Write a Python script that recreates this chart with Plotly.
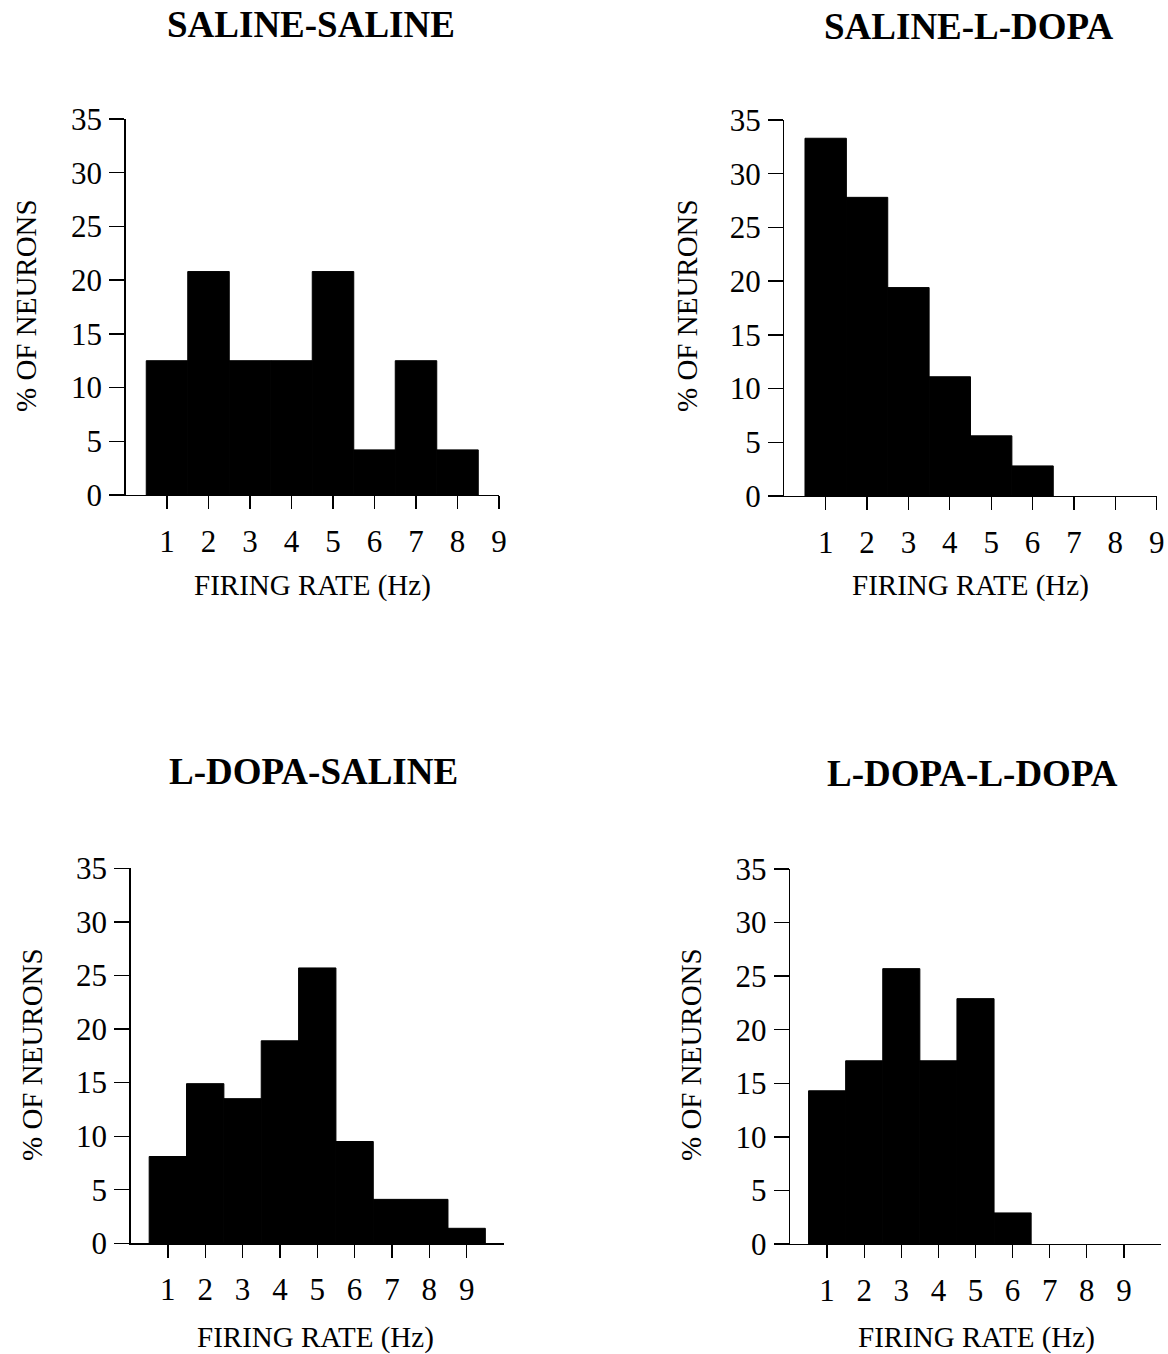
import plotly.graph_objects as go

W, H = 1168, 1354

# Data (% of neurons per firing-rate bin, Hz)
titles = ["SALINE-SALINE", "SALINE-L-DOPA", "L-DOPA-SALINE", "L-DOPA-L-DOPA"]
ss_x = [1, 2, 3, 4, 5, 6, 7, 8]
ss_y = [12.5, 20.8, 12.5, 12.5, 20.8, 4.2, 12.5, 4.2]
sl_x = [1, 2, 3, 4, 5, 6]
sl_y = [33.3, 27.8, 19.4, 11.1, 5.6, 2.8]
ls_x = [1, 2, 3, 4, 5, 6, 7, 8, 9]
ls_y = [8.1, 14.9, 13.5, 18.9, 25.7, 9.5, 4.1, 4.1, 1.4]
ll_x = [1, 2, 3, 4, 5, 6]
ll_y = [14.3, 17.1, 25.7, 17.1, 22.9, 2.9]
x_ticks = [1, 2, 3, 4, 5, 6, 7, 8, 9]
y_ticks = [0, 5, 10, 15, 20, 25, 30, 35]
x_title = "FIRING RATE (Hz)"
y_title = "% OF NEURONS"

FONT = "Liberation Serif, Times New Roman, serif"


def px(x):
    return x / W


def py(y):
    return 1 - y / H


# panel geometry in pixels: (x0, x1, xmax, ybottom, ytop)
panels = [
    (125.5, 499.0, 9, 495.0, 119.0),
    (784.3, 1156.7, 9, 496.0, 120.0),
    (130.5, 504.0, 10, 1243.3, 868.3),
    (790.0, 1161.0, 10, 1244.0, 869.0),
]
data = [(ss_x, ss_y), (sl_x, sl_y), (ls_x, ls_y), (ll_x, ll_y)]
title_pos = [(311, 24), (968, 26), (313, 771), (972, 773)]
xtitle_pos = [(312, 585), (970, 585), (315, 1337), (976, 1337)]
ytitle_pos = [(26, 306), (687, 306), (32, 1055), (691, 1054)]

fig = go.Figure()
annotations = []
for i, ((xs, ys), (x0, x1, xmax, yb, yt)) in enumerate(zip(data, panels)):
    k = "" if i == 0 else str(i + 1)
    fig.add_trace(go.Bar(
        x=xs, y=ys, width=1.0,
        marker=dict(color="black", line=dict(color="black", width=1)),
        xaxis="x" + k, yaxis="y" + k, showlegend=False,
    ))
    fig.layout["xaxis" + k] = dict(
        domain=[px(x0), px(x1)], range=[0, xmax], anchor="y" + k,
        tickvals=x_ticks, ticks="outside", ticklen=13, tickwidth=1.3,
        tickcolor="black", showline=True, linecolor="black", linewidth=1.3,
        showgrid=False, zeroline=False, ticklabelstandoff=5,
        automargin=False,
        tickfont=dict(family=FONT, size=31, color="black"),
    )
    fig.layout["yaxis" + k] = dict(
        domain=[py(yb), py(yt)], range=[0, 35], anchor="x" + k,
        tickvals=y_ticks, ticks="outside", ticklen=15, tickwidth=1.3,
        tickcolor="black", showline=True, linecolor="black", linewidth=1.3,
        showgrid=False, zeroline=False, ticklabelstandoff=1,
        automargin=False,
        tickfont=dict(family=FONT, size=31, color="black"),
    )
    tx, ty = title_pos[i]
    annotations.append(dict(
        text="<b>" + titles[i] + "</b>", x=px(tx), y=py(ty),
        xref="paper", yref="paper", showarrow=False,
        xanchor="center", yanchor="middle",
        font=dict(family=FONT, size=37, color="black"),
    ))
    ax, ay = xtitle_pos[i]
    annotations.append(dict(
        text=x_title, x=px(ax), y=py(ay),
        xref="paper", yref="paper", showarrow=False,
        xanchor="center", yanchor="middle",
        font=dict(family=FONT, size=29, color="black"),
    ))
    bx, by = ytitle_pos[i]
    annotations.append(dict(
        text=y_title, x=px(bx), y=py(by), textangle=-90,
        xref="paper", yref="paper", showarrow=False,
        xanchor="center", yanchor="middle",
        font=dict(family=FONT, size=29, color="black"),
    ))

fig.update_layout(
    width=W, height=H, margin=dict(l=0, r=0, t=0, b=0, autoexpand=False),
    paper_bgcolor="white", plot_bgcolor="white",
    annotations=annotations, bargap=0, hovermode=False,
)
fig.write_html(
    "out.html",
    config={"displayModeBar": False, "staticPlot": True},
    post_script="document.body.style.margin='0';document.body.style.overflow='hidden';",
)
